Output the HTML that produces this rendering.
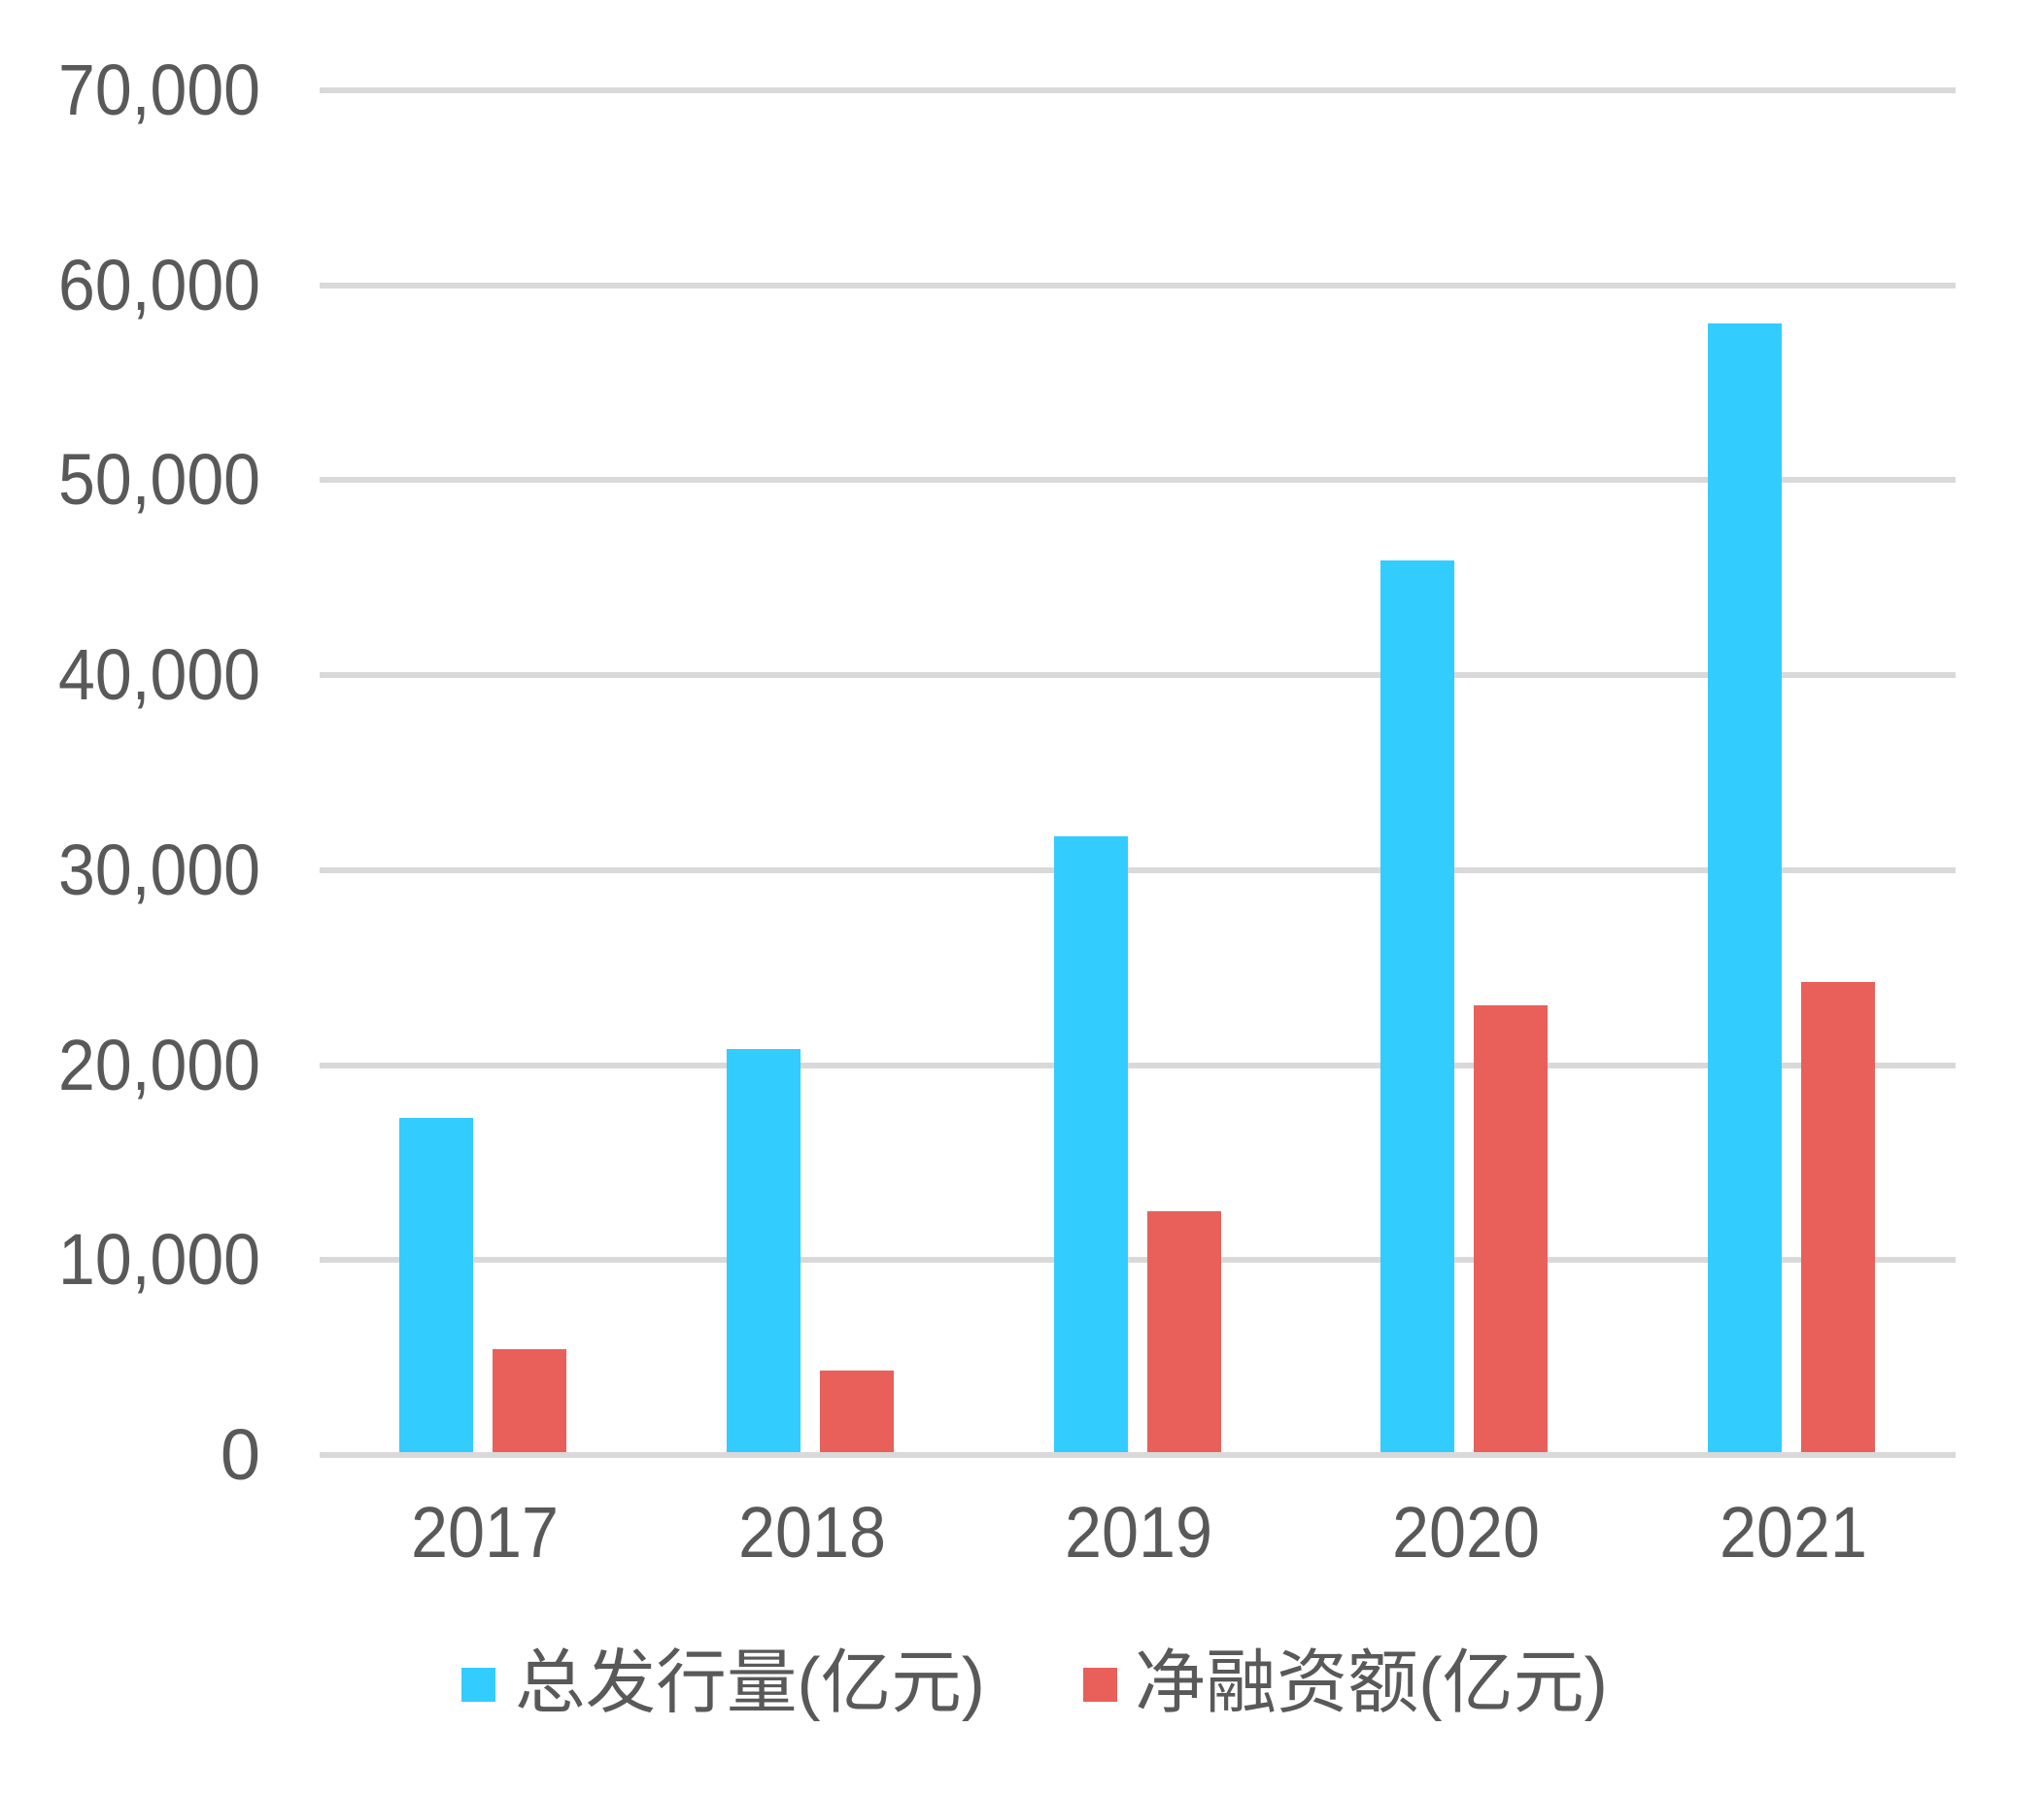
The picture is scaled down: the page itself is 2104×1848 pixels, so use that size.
<!DOCTYPE html>
<html><head><meta charset="utf-8"><style>
html,body{margin:0;padding:0;background:#fff;}
svg{display:block;}
text{font-family:"Liberation Sans","Noto Sans CJK SC",sans-serif;fill:#595959;}
</style></head><body>
<svg width="2104" height="1848" viewBox="0 0 2104 1848" xmlns="http://www.w3.org/2000/svg">
<rect width="2104" height="1848" fill="#fff"/>
<g fill="#d9d9d9">
<rect x="329" y="90" width="1684" height="6"/>
<rect x="329" y="291" width="1684" height="6"/>
<rect x="329" y="491" width="1684" height="6"/>
<rect x="329" y="692" width="1684" height="6"/>
<rect x="329" y="893" width="1684" height="6"/>
<rect x="329" y="1094" width="1684" height="6"/>
<rect x="329" y="1294" width="1684" height="6"/>
<rect x="329" y="1495" width="1684" height="6"/>
</g>
<g font-size="74">
<text x="60" y="118" textLength="208" lengthAdjust="spacingAndGlyphs">70,000</text>
<text x="60" y="319" textLength="208" lengthAdjust="spacingAndGlyphs">60,000</text>
<text x="60" y="519" textLength="208" lengthAdjust="spacingAndGlyphs">50,000</text>
<text x="60" y="720" textLength="208" lengthAdjust="spacingAndGlyphs">40,000</text>
<text x="60" y="921" textLength="208" lengthAdjust="spacingAndGlyphs">30,000</text>
<text x="60" y="1122" textLength="208" lengthAdjust="spacingAndGlyphs">20,000</text>
<text x="60" y="1322" textLength="208" lengthAdjust="spacingAndGlyphs">10,000</text>
<text x="268" y="1523" text-anchor="end">0</text>
</g>
<g fill="#33ccff">
<rect x="411" y="1151" width="76" height="344"/>
<rect x="748" y="1080" width="76" height="415"/>
<rect x="1085" y="861" width="76" height="634"/>
<rect x="1421" y="577" width="76" height="918"/>
<rect x="1758" y="333" width="76" height="1162"/>
</g>
<g fill="#e9605b">
<rect x="507" y="1389" width="76" height="106"/>
<rect x="844" y="1411" width="76" height="84"/>
<rect x="1181" y="1247" width="76" height="248"/>
<rect x="1517" y="1035" width="76" height="460"/>
<rect x="1854" y="1011" width="76" height="484"/>
</g>
<g font-size="74">
<text x="423" y="1603" textLength="152" lengthAdjust="spacingAndGlyphs">2017</text>
<text x="760" y="1603" textLength="152" lengthAdjust="spacingAndGlyphs">2018</text>
<text x="1096" y="1603" textLength="152" lengthAdjust="spacingAndGlyphs">2019</text>
<text x="1433" y="1603" textLength="152" lengthAdjust="spacingAndGlyphs">2020</text>
<text x="1770" y="1603" textLength="152" lengthAdjust="spacingAndGlyphs">2021</text>
</g>
<rect x="475" y="1717" width="35" height="35" fill="#33ccff"/>
<text x="530" y="1757" font-size="72" textLength="484" lengthAdjust="spacingAndGlyphs">总发行量(亿元)</text>
<rect x="1115" y="1717" width="35" height="35" fill="#e9605b"/>
<text x="1168" y="1757" font-size="72" textLength="487" lengthAdjust="spacingAndGlyphs">净融资额(亿元)</text>
</svg>
</body></html>
